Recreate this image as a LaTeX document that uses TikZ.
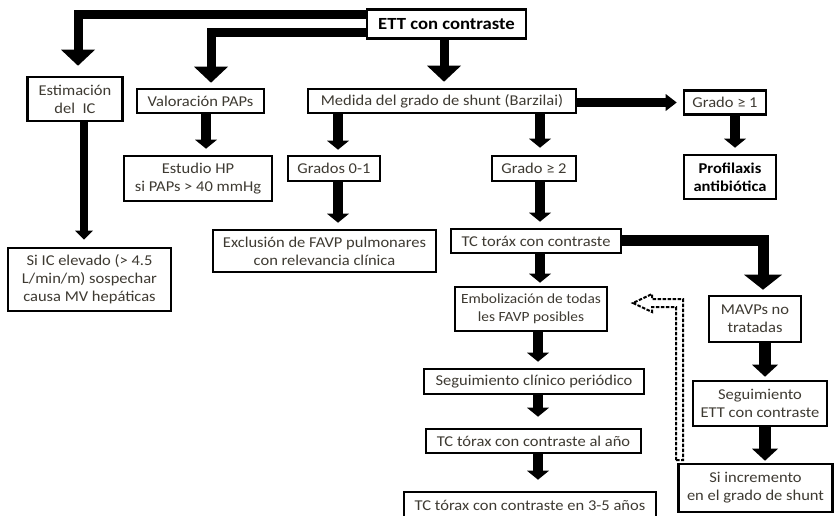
\documentclass[tikz,border=0pt]{standalone}
\usepackage{fontspec}
\setmainfont{Carlito}[FakeStretch=1.1]
\usetikzlibrary{arrows.meta,calc}
\definecolor{txt}{RGB}{62,58,50}
\begin{document}
\begin{tikzpicture}[x=1pt,y=-1pt,
  box/.style={draw, line width=2.6pt, fill=white, align=center, inner sep=0pt,
    text=txt, font=\fontsize{15}{18}\selectfont},
  boldbox/.style={box, text=black, font=\fontsize{15}{18}\selectfont\bfseries},
  arr/.style={line width=10pt, -{Triangle[width=22pt,length=9pt,line width=0pt]}, shorten >=6pt},
  harr/.style={line width=12pt, -{Triangle[width=26pt,length=12pt,line width=0pt]}, shorten >=3pt},
  sarr/.style={line width=8pt, -{Triangle[width=18pt,length=9pt,line width=0pt]}, shorten >=7pt},
  rarr/.style={line width=9pt, -{Triangle[width=17pt,length=11pt,line width=0pt]}, shorten >=6pt},
  bigarr/.style={line width=9pt, line join=miter, -{Triangle[width=34pt,length=16pt,line width=0pt]}, shorten >=6pt},
  tcarr/.style={line width=11pt, line join=miter, -{Triangle[width=38pt,length=15pt,line width=0pt]}, shorten >=5pt},
  dasharr/.style={line width=2pt, dash pattern=on 3.5pt off 1.5pt, fill=white, line join=miter}
]
\useasboundingbox (0,0) rectangle (834,515);

% boxes
\node[boldbox, font=\fontsize{17}{20}\selectfont\bfseries, minimum width=159pt, minimum height=29pt] (ett) at (446.5,24) {ETT con contraste};
\node[box, minimum width=95pt, minimum height=44pt] (est) at (75,99) {Estimación\\del\ \ IC};
\node[box, minimum width=127pt, minimum height=24pt] (val) at (200.5,101) {Valoración PAPs};
\node[box, minimum width=268pt, minimum height=24pt] (med) at (442,101) {Medida del grado de shunt (Barzilai)};
\node[box, minimum width=82pt, minimum height=24pt] (g1) at (725,102.5) {Grado ≥ 1};
\node[box, minimum width=148pt, minimum height=45pt] (hp) at (198,178.5) {Estudio HP\\si PAPs > 40 mmHg};
\node[box, minimum width=92pt, minimum height=25pt] (g01) at (334,168.5) {Grados 0-1};
\node[box, minimum width=84pt, minimum height=25pt] (g2) at (534,168.5) {Grado ≥ 2};
\node[boldbox, minimum width=92pt, minimum height=44pt] (prof) at (730,177) {Profilaxis\\antibiótica};
\node[box, minimum width=223pt, minimum height=42pt] (excl) at (324.5,251) {Exclusión de FAVP pulmonares\\con relevancia clínica};
\node[box, minimum width=170pt, minimum height=24pt] (tc) at (536,241) {TC toráx con contraste};
\node[box, minimum width=163pt, minimum height=63pt] (siic) at (89.5,279.5) {Si IC elevado (> 4.5\\L/min/m) sospechar\\causa MV hepáticas};
\node[box, font=\fontsize{14}{18}\selectfont, minimum width=152pt, minimum height=44pt] (emb) at (531,309) {Embolización de todas\\les FAVP posibles};
\node[box, minimum width=92pt, minimum height=46pt] (mavp) at (755,319) {MAVPs no\\tratadas};
\node[box, minimum width=220pt, minimum height=25pt] (seg) at (534,381.5) {Seguimiento clínico periódico};
\node[box, minimum width=134pt, minimum height=45pt] (segett) at (760,403.5) {Seguimiento\\ETT con contraste};
\node[box, minimum width=215pt, minimum height=24pt] (tc1) at (533.5,441) {TC tórax con contraste al año};
\node[box, minimum width=252pt, minimum height=26pt] (tc35) at (530,505) {TC tórax con contraste en 3-5 años};
\node[box, minimum width=154pt, minimum height=48pt] (siinc) at (755.5,488) {Si incremento\\en el grado de shunt};

% bent arrows leaving the top box and the CT box
\coordinate (k1) at (78,14);
\coordinate (k2) at (211,32);
\coordinate (k3) at (763,240);
\draw[bigarr, shorten >=10pt] (k1 -| ett.west) -- (k1) -- (k1 |- est.north);
\draw[bigarr, shorten >=5pt] (k2 -| ett.west) -- (k2) -- (k2 |- val.north);
\draw[tcarr] (k3 -| tc.east) -- (k3) -- (k3 |- mavp.north);

% straight arrows
\coordinate (x0) at (444,0);
\coordinate (x1) at (206,0);
\coordinate (x2) at (338,0);
\coordinate (x3) at (540,0);
\coordinate (x4) at (735,0);
\coordinate (x5) at (538,0);
\coordinate (x6) at (765,0);
\coordinate (x7) at (84,0);
\draw[bigarr] (x0 |- ett.south) -- (x0 |- med.north);
\draw[arr] (x1 |- val.south) -- (x1 |- hp.north);
\draw[arr, shorten >=5pt] (x2 |- med.south) -- (x2 |- g01.north);
\draw[arr, shorten >=7pt] (x3 |- med.south) -- (x3 |- g2.north);
\draw[arr] (x4 |- g1.south) -- (x4 |- prof.north);
\draw[arr] (x2 |- g01.south) -- (x2 |- excl.north);
\draw[arr] (x3 |- g2.south) -- (x3 |- tc.north);
\draw[arr, shorten >=3pt] (x3 |- tc.south) -- (x3 |- emb.north);
\draw[arr] (x5 |- emb.south) -- (x5 |- seg.north);
\draw[arr, shorten >=11pt] (x5 |- seg.south) -- (x5 |- tc1.north);
\draw[arr, shorten >=11pt] (x5 |- tc1.south) -- (x5 |- tc35.north);
\draw[harr] (x6 |- mavp.south) -- (x6 |- segett.north);
\draw[harr, shorten >=2pt] (x6 |- segett.south) -- (x6 |- siinc.north);
\draw[sarr] (x7 |- est.south) -- (x7 |- siic.north);
\draw[rarr] (med.east |- g1.west) -- (g1.west);

% dashed hollow feedback arrow
\coordinate (dtip) at (633,303);
\coordinate (dfoot) at (679.5,460);
\draw[dasharr] ($(dfoot)+(-3.5,0)$) -- ($(dfoot)+(3.5,0)$) -- (683,299) -- (652,299) -- (652,294)
  -- (dtip) -- (652,312) -- (652,307) -- (676,307) -- cycle;
\end{tikzpicture}
\end{document}
